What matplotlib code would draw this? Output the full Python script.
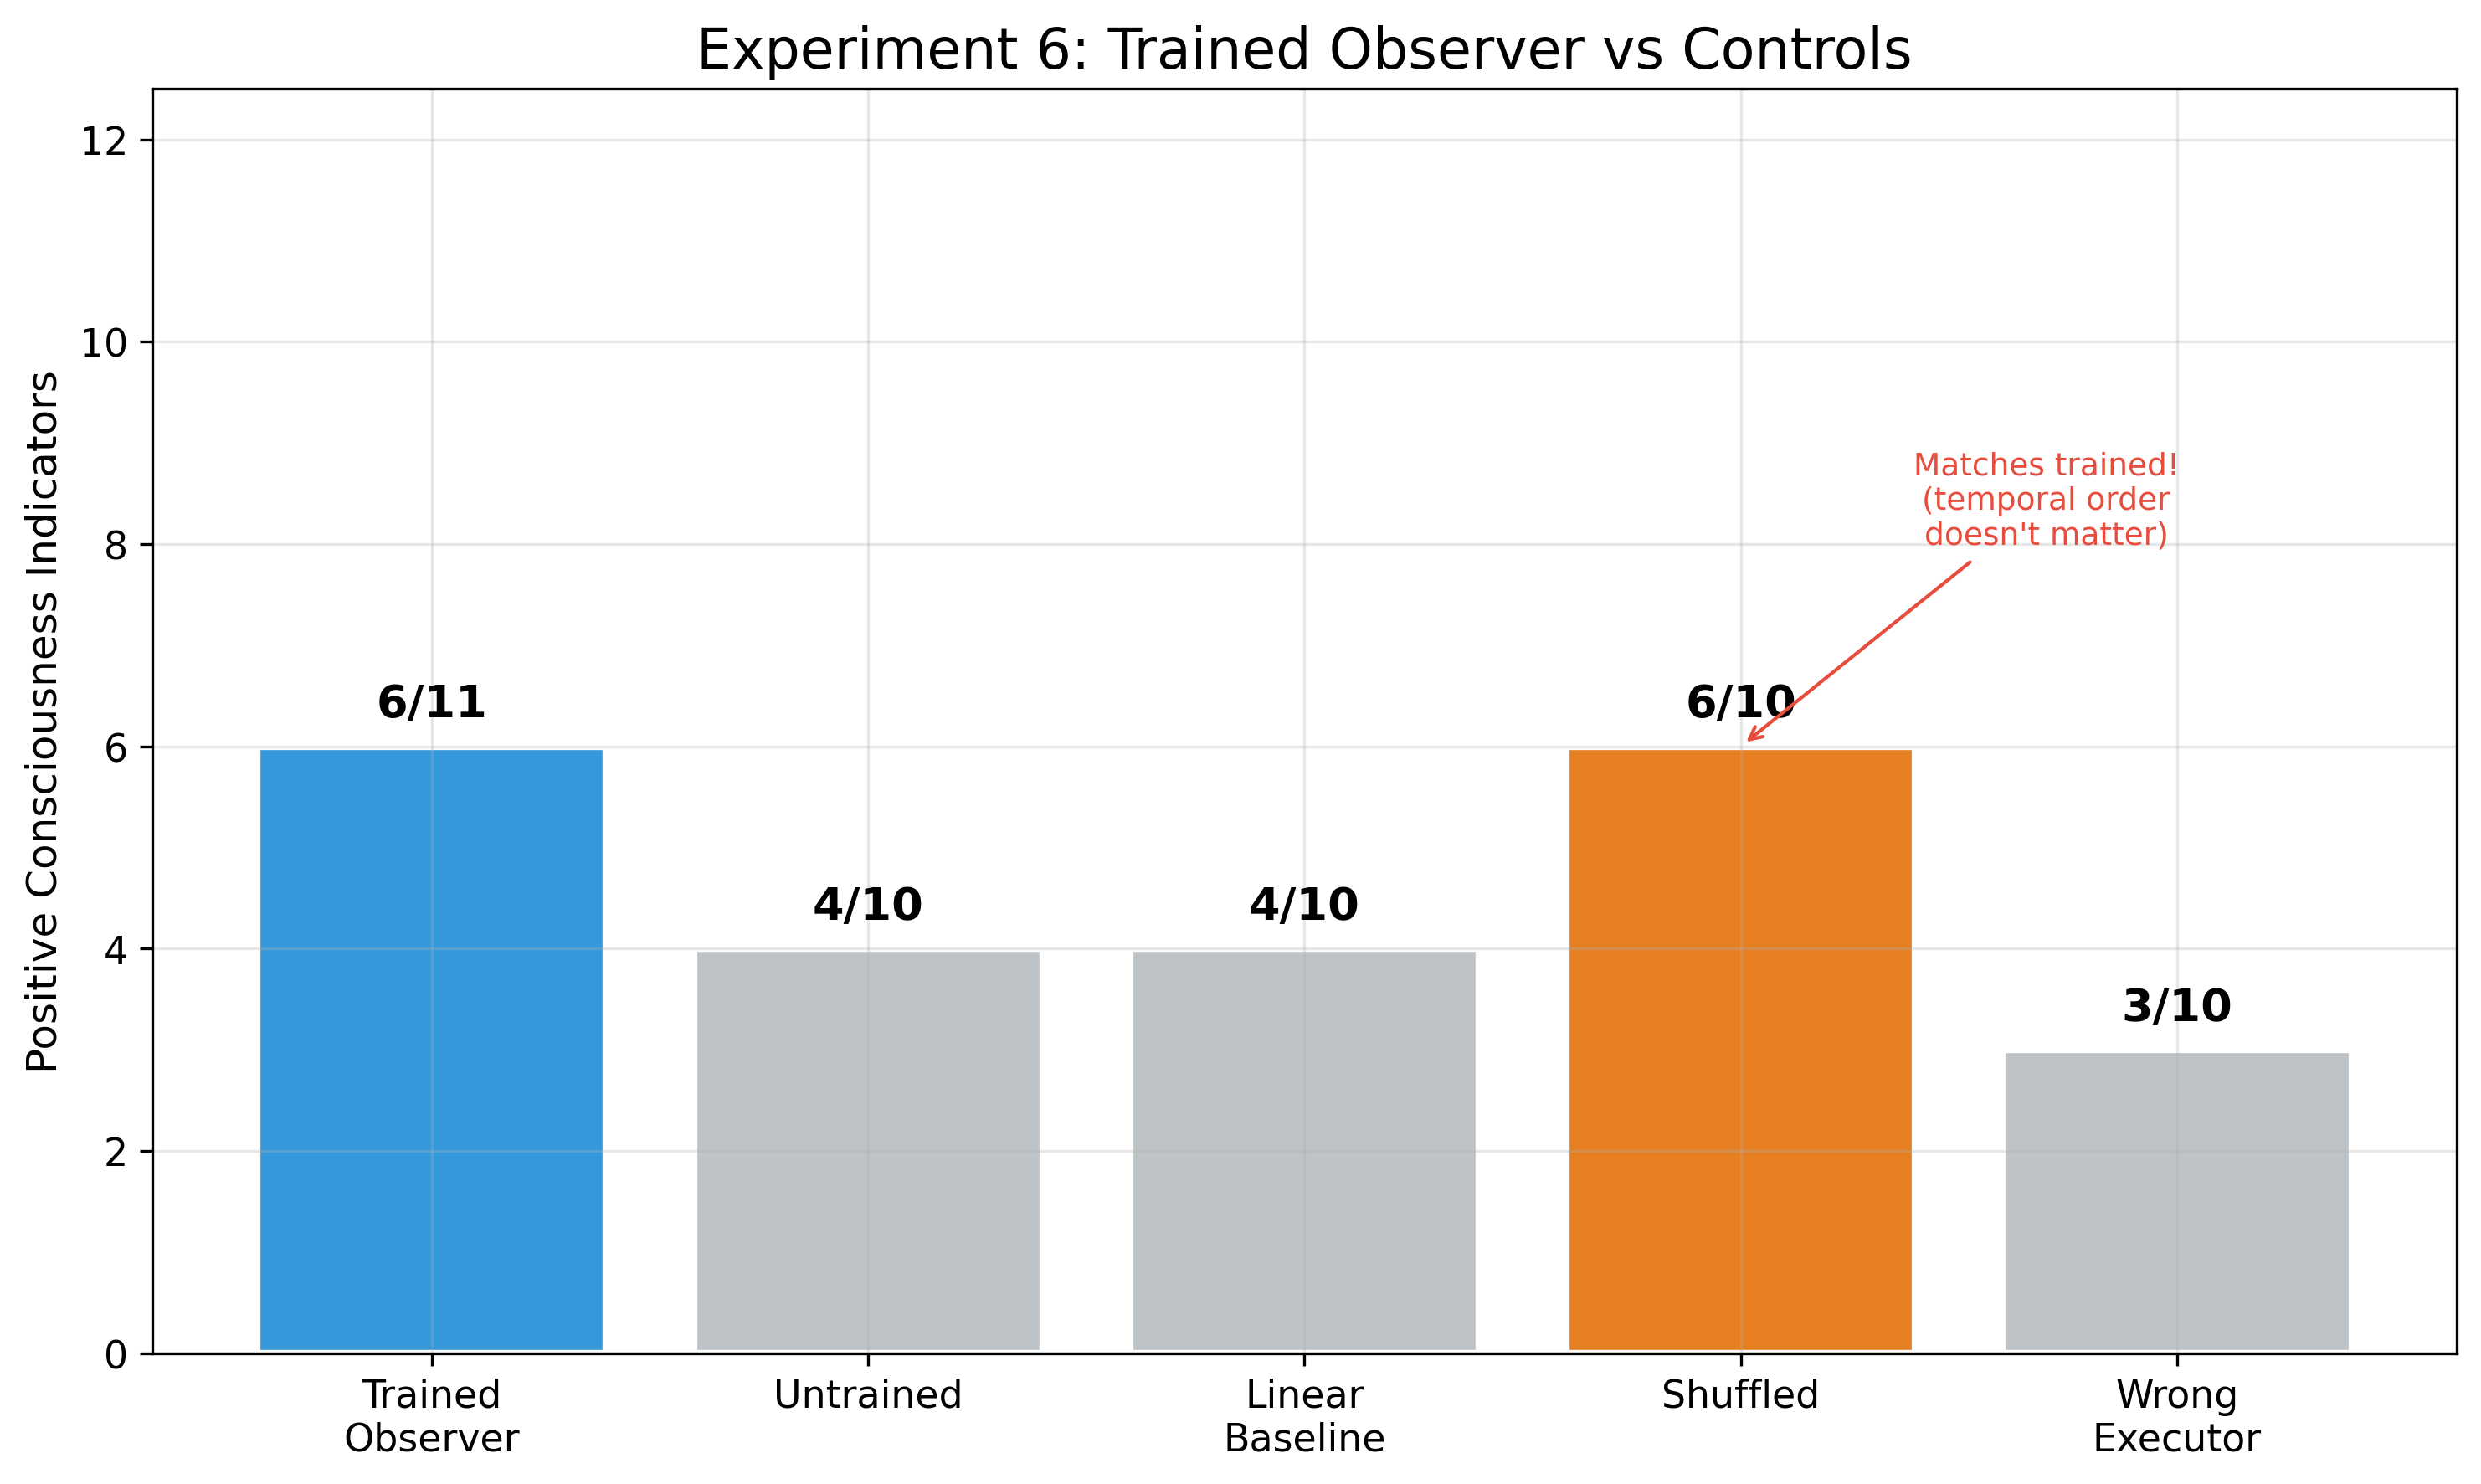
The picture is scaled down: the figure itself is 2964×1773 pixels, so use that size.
import matplotlib.pyplot as plt
import numpy as np

conditions = ['Trained\nObserver', 'Untrained', 'Linear\nBaseline', 'Shuffled', 'Wrong\nExecutor']
positives = [6, 4, 4, 6, 3]
totals = [11, 10, 10, 10, 10]
colors = ['#3498db', '#bdc3c7', '#bdc3c7', '#e67e22', '#bdc3c7']

fig, ax = plt.subplots(figsize=(10, 6))

x = np.arange(len(conditions))
bars = ax.bar(x, positives, color=colors, edgecolor='white', linewidth=2)

for bar, p, t in zip(bars, positives, totals):
    ax.text(bar.get_x() + bar.get_width() / 2, p + 0.2, f'{p}/{t}',
            ha='center', va='bottom', fontsize=13, fontweight='bold')

ax.annotate('Matches trained!\n(temporal order\ndoesn\'t matter)',
            xy=(3, 6), xytext=(3.7, 8), ha='center', fontsize=9,
            color='#e74c3c',
            arrowprops=dict(arrowstyle='->', color='#e74c3c'))

ax.set_xticks(x)
ax.set_xticklabels(conditions, fontsize=11)
ax.tick_params(axis='y', labelsize=11)
ax.set_ylabel('Positive Consciousness Indicators', fontsize=12)
ax.set_title('Experiment 6: Trained Observer vs Controls', fontsize=16)
ax.set_ylim(0, 12.5)
ax.grid(True, alpha=0.3)

plt.tight_layout()
plt.savefig('out.png', dpi=300, bbox_inches='tight')
